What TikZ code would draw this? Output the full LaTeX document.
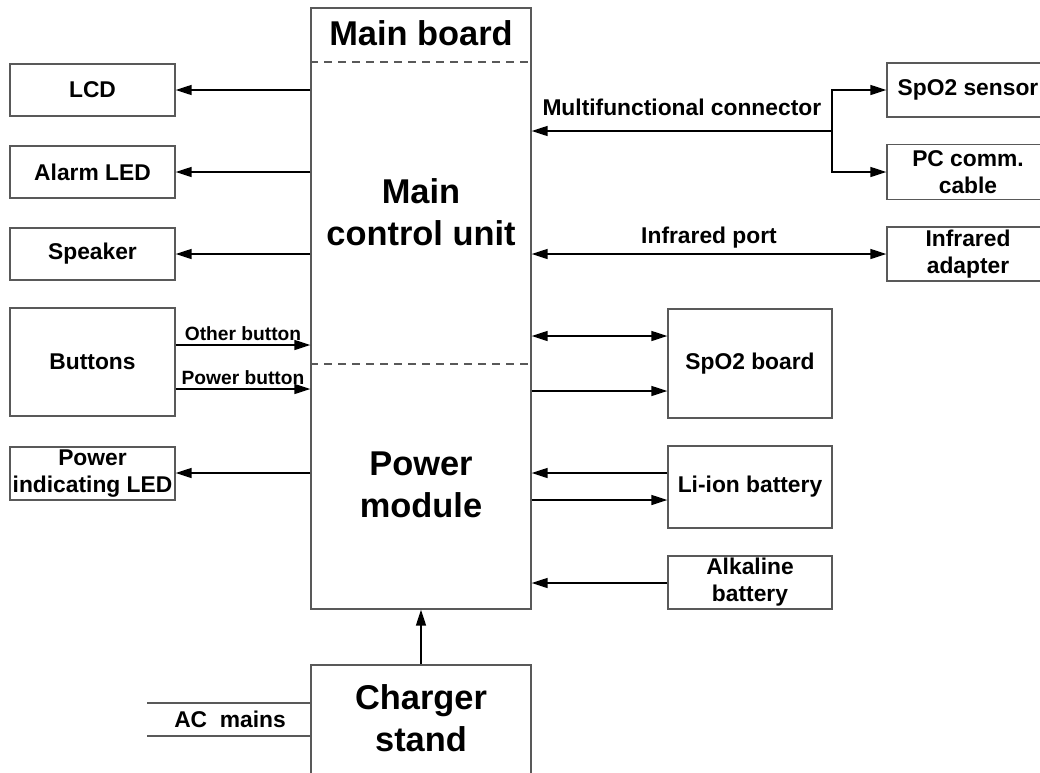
\documentclass[tikz,border=0pt]{standalone}
\usepackage{fontspec}
\setmainfont{Liberation Sans}
\usetikzlibrary{arrows.meta, positioning}

\begin{document}
\begin{tikzpicture}[x=0.5pt, y=-0.5pt,
  box/.style={draw=black!65, line width=0.65pt, inner sep=0pt,
              font=\fontsize{11.4}{13.5}\selectfont\bfseries, align=center},
  bigtext/.style={font=\fontsize{17.2}{21}\selectfont\bfseries, align=center, inner sep=0pt},
  lbl/.style={font=\fontsize{11.4}{13.5}\selectfont\bfseries, inner sep=0pt},
  tinylbl/.style={font=\fontsize{9.6}{11}\selectfont\bfseries, inner sep=0pt},
  arr/.style={-{Triangle[length=8pt,width=5pt]}, line width=0.7pt},
  darr/.style={{Triangle[length=8pt,width=5pt]}-{Triangle[length=8pt,width=5pt]}, line width=0.7pt},
  sep/.style={draw=black!65, dash pattern=on 4pt off 3pt, line width=0.65pt},
]
  \useasboundingbox (0,0) rectangle (1040,772);
  \clip (0,0) rectangle (1040,772);

  % Main board and charger
  \node[box, minimum width=110pt, minimum height=300.5pt] (main) at (421,308.5) {};
  \node[box, minimum width=110pt, minimum height=67.5pt] (charger) at (421,732.5) {};
  \draw[sep] (main.west |- 0,62) -- (main.east |- 0,62);
  \draw[sep] (main.west |- 0,364) -- (main.east |- 0,364);
  \node[bigtext] (mbtitle) at (421,33) {Main board};
  \node[bigtext] (mcu) at (421,212) {Main\\control unit};
  \node[bigtext] (pm) at (421,485) {Power\\module};
  \node[bigtext] (cstext) at (421,718) {Charger\\stand};

  % Left side
  \node[box, minimum width=82.5pt, minimum height=26pt] (lcd) at (92.5,90) {LCD};
  \node[box, minimum width=82.5pt, minimum height=26pt] (alarm) at (92.5,172) {Alarm LED};
  \node[box, minimum width=82.5pt, minimum height=26pt] (speaker) at (92.5,254) {Speaker};
  \node[box, minimum width=82.5pt, minimum height=54pt] (buttons) at (92.5,362) {Buttons};
  \node[box, minimum width=82.5pt, minimum height=26.5pt] (pwrled) at (92.5,473.5) {Power\\indicating LED};

  % Right side
  \node[box, minimum width=81pt, minimum height=27pt] (sensor) at (968,90) {SpO2 sensor};
  \node[box, minimum width=81pt, minimum height=27.5pt] (pccable) at (968,172) {PC comm.\\cable};
  \node[box, minimum width=81pt, minimum height=27pt] (irda) at (968,254) {Infrared\\adapter};
  \node[box, minimum width=82pt, minimum height=54.5pt] (spo2board) at (750,363.5) {SpO2 board};
  \node[box, minimum width=82pt, minimum height=41pt] (liion) at (750,487) {Li-ion battery};
  \node[box, minimum width=82pt, minimum height=26.5pt] (alkaline) at (750,582.5) {Alkaline\\battery};
  \coordinate (mfjoint) at (832,131);

  % Arrows
  \draw[arr] (main.west |- lcd) -- (lcd);
  \draw[arr] (main.west |- alarm) -- (alarm);
  \draw[arr] (main.west |- speaker) -- (speaker);
  \draw[arr] (main.west |- 0,473) -- (pwrled.east |- 0,473);
  \draw[arr] (buttons.east |- 0,345) -- (main.west |- 0,345)
    node[midway, above=2pt, tinylbl] {Other button};
  \draw[arr] (buttons.east |- 0,389) -- (main.west |- 0,389)
    node[midway, above=2pt, tinylbl] {Power button};

  \draw[arr] (mfjoint) -- (main.east |- mfjoint)
    node[midway, above=7.5pt, lbl] {Multifunctional connector};
  \draw[arr] (mfjoint) |- (sensor);
  \draw[arr] (mfjoint) |- (pccable);
  \draw[darr] (main.east |- irda) -- (irda)
    node[midway, above=2.5pt, lbl] {Infrared port};
  \draw[darr] (main.east |- 0,336) -- (spo2board.west |- 0,336);
  \draw[arr] (main.east |- 0,391) -- (spo2board.west |- 0,391);
  \draw[arr] (liion.west |- 0,473) -- (main.east |- 0,473);
  \draw[arr] (main.east |- 0,500) -- (liion.west |- 0,500);
  \draw[arr] (alkaline.west |- 0,583) -- (main.east |- 0,583);
  \draw[arr] (charger) -- (main);

  % AC mains
  \draw[line width=0.65pt, black!65] (147,703) -- (charger.west |- 0,703);
  \draw[line width=0.65pt, black!65] (147,736) -- (charger.west |- 0,736);
  \node[lbl] (acmains) at (230,719) {AC\ \ mains};
\end{tikzpicture}
\end{document}
